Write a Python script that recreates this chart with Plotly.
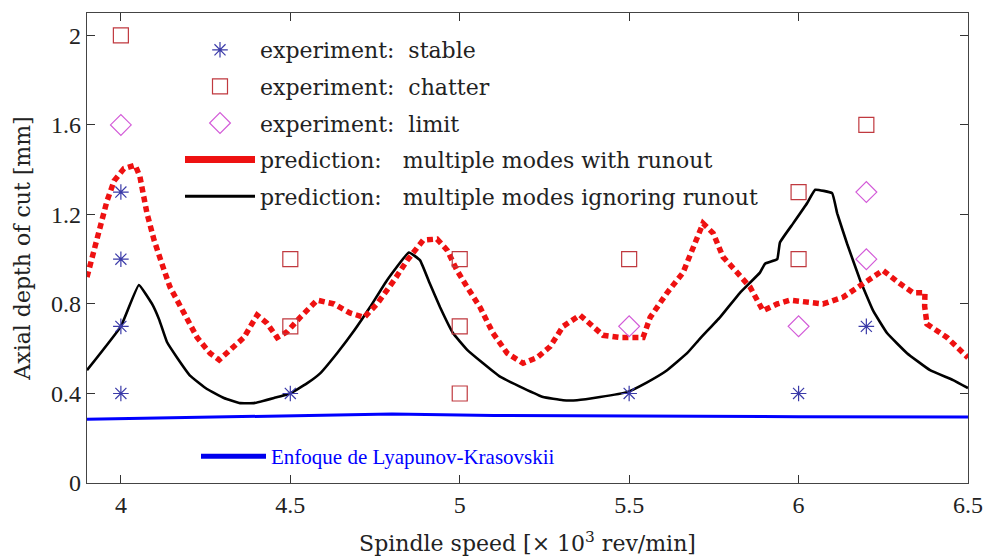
import plotly.graph_objects as go

# ---- experiment points ----
stable_x = [4.0, 4.0, 4.0, 4.0, 4.5, 5.5, 6.0, 6.2]
stable_y = [0.4, 0.7, 1.0, 1.3, 0.4, 0.4, 0.4, 0.7]

chatter_x = [4.0, 4.5, 4.5, 5.0, 5.0, 5.0, 5.5, 6.0, 6.0, 6.2]
chatter_y = [2.0, 1.0, 0.7, 1.0, 0.7, 0.4, 1.0, 1.3, 1.0, 1.6]

limit_x = [4.0, 5.5, 6.0, 6.2, 6.2]
limit_y = [1.6, 0.7, 0.7, 1.3, 1.0]

# ---- prediction: multiple modes with runout (red dotted) ----
runout_x = [3.900, 3.930, 3.959, 3.980, 4.009, 4.042, 4.056, 4.077, 4.098, 4.121,
            4.145, 4.186, 4.225, 4.263, 4.290, 4.322, 4.363, 4.402, 4.431, 4.461,
            4.490, 4.529, 4.579, 4.629, 4.676, 4.718, 4.756, 4.806, 4.845, 4.892,
            4.933, 4.963, 4.992, 5.022, 5.060, 5.098, 5.140, 5.187, 5.228, 5.267,
            5.305, 5.355, 5.393, 5.423, 5.473, 5.541, 5.562, 5.612, 5.659, 5.700,
            5.718, 5.748, 5.777, 5.819, 5.857, 5.895, 5.937, 5.975, 6.025, 6.072,
            6.131, 6.202, 6.249, 6.300, 6.338, 6.373, 6.372, 6.379, 6.438, 6.500]
runout_y = [0.92, 1.085, 1.26, 1.35, 1.405, 1.42, 1.37, 1.205, 1.085, 0.98,
            0.875, 0.76, 0.65, 0.58, 0.55, 0.594, 0.65, 0.75, 0.714, 0.65,
            0.675, 0.74, 0.817, 0.80, 0.76, 0.74, 0.80, 0.905, 0.995, 1.085,
            1.09, 1.04, 0.95, 0.875, 0.785, 0.67, 0.58, 0.535, 0.56, 0.61,
            0.70, 0.75, 0.70, 0.66, 0.65, 0.65, 0.74, 0.85, 0.94, 1.10,
            1.16, 1.116, 1.01, 0.94, 0.875, 0.77, 0.80, 0.817, 0.81, 0.80,
            0.83, 0.905, 0.95, 0.89, 0.85, 0.85, 0.79, 0.71, 0.65, 0.56]

# ---- prediction: multiple modes ignoring runout (black) ----
ignore_x = [3.900, 4.000, 4.053, 4.092, 4.113, 4.136, 4.166, 4.204, 4.254, 4.304,
            4.352, 4.393, 4.452, 4.499, 4.549, 4.588, 4.638, 4.688, 4.735, 4.785,
            4.850, 4.883, 4.912, 4.942, 4.980, 5.022, 5.069, 5.119, 5.187, 5.246,
            5.305, 5.346, 5.414, 5.494, 5.553, 5.612, 5.671, 5.709, 5.768, 5.827,
            5.886, 5.901, 5.937, 5.945, 5.984, 6.025, 6.049, 6.099, 6.114, 6.143,
            6.182, 6.220, 6.261, 6.320, 6.388, 6.456, 6.500]
ignore_y = [0.504, 0.70, 0.885, 0.80, 0.73, 0.63, 0.56, 0.48, 0.42, 0.38,
            0.357, 0.357, 0.38, 0.40, 0.445, 0.49, 0.58, 0.68, 0.785, 0.905,
            1.03, 0.995, 0.89, 0.785, 0.67, 0.595, 0.535, 0.475, 0.424, 0.384,
            0.37, 0.37, 0.384, 0.406, 0.45, 0.504, 0.58, 0.645, 0.74, 0.85,
            0.94, 0.98, 1.00, 1.075, 1.16, 1.25, 1.31, 1.295, 1.205, 1.07,
            0.905, 0.77, 0.67, 0.58, 0.504, 0.46, 0.424]

# ---- Lyapunov-Krasovskii approach (blue) ----
lk_x = [3.90, 4.2, 4.5, 4.8, 5.1, 5.5, 6.0, 6.5]
lk_y = [0.285, 0.292, 0.300, 0.308, 0.302, 0.298, 0.296, 0.295]

x_ticks = [4, 4.5, 5, 5.5, 6, 6.5]
x_tick_labels = ["4", "4.5", "5", "5.5", "6", "6.5"]
y_ticks = [0, 0.4, 0.8, 1.2, 1.6, 2.0]
y_tick_labels = ["0", "0.4", "0.8", "1.2", "1.6", "2"]

legend_names = [
    "experiment:\u00a0 stable",
    "experiment:\u00a0 chatter",
    "experiment:\u00a0 limit",
    "prediction:\u00a0\u00a0 multiple modes with runout",
    "prediction:\u00a0\u00a0 multiple modes ignoring runout",
]
lk_name = "Enfoque de Lyapunov-Krasovskii"

RED = "#ee1111"
STAR = "#3a3aa8"
SQ = "#c0393f"
DIA = "#d35bd8"

fig = go.Figure()

# curves (no legend)
fig.add_trace(go.Scatter(x=lk_x, y=lk_y, mode="lines", line=dict(color="#0000ff", width=3),
                         showlegend=False))
fig.add_trace(go.Scatter(x=ignore_x, y=ignore_y, mode="lines",
                         line=dict(color="black", width=2.6, shape="spline", smoothing=0.3),
                         showlegend=False))
fig.add_trace(go.Scatter(x=runout_x, y=runout_y, mode="lines",
                         line=dict(color=RED, width=5.5, dash="6px,4px"), showlegend=False))

# experiment markers (legend)
fig.add_trace(go.Scatter(x=stable_x, y=stable_y, mode="markers", name=legend_names[0],
                         marker=dict(symbol="asterisk-open", size=13, color=STAR,
                                     line=dict(color=STAR, width=1.2)),
                         legendgroup="a"))
fig.add_trace(go.Scatter(x=chatter_x, y=chatter_y, mode="markers", name=legend_names[1],
                         marker=dict(symbol="square-open", size=15, color=SQ,
                                     line=dict(color=SQ, width=1.2)),
                         legendgroup="b"))
fig.add_trace(go.Scatter(x=limit_x, y=limit_y, mode="markers", name=legend_names[2],
                         marker=dict(symbol="diamond-open", size=16, color=DIA,
                                     line=dict(color=DIA, width=1.2)),
                         legendgroup="c"))
# legend proxies for the lines
fig.add_trace(go.Scatter(x=[None], y=[None], mode="lines", name=legend_names[3],
                         line=dict(color=RED, width=7), legendgroup="d"))
fig.add_trace(go.Scatter(x=[None], y=[None], mode="lines", name=legend_names[4],
                         line=dict(color="black", width=3), legendgroup="e"))
fig.add_trace(go.Scatter(x=[None], y=[None], mode="lines", name=lk_name,
                         line=dict(color="#0000ee", width=5), legend="legend2"))

L, R, T, B = 87, 22, 13, 76
W, H = 990, 559
pw = W - L - R
ph = H - T - B

fig.update_layout(
    width=W, height=H,
    margin=dict(l=L, r=R, t=T, b=B, autoexpand=False),
    plot_bgcolor="white", paper_bgcolor="white",
    font=dict(family="Liberation Serif", color="#222"),
    legend=dict(
        x=(180 - L) / pw, y=1 - (29 - T) / ph, xanchor="left", yanchor="top",
        bgcolor="rgba(0,0,0,0)", font=dict(family="DejaVu Serif", size=22, color="#222"),
        itemwidth=70, traceorder="grouped", tracegroupgap=5,
    ),
    legend2=dict(
        x=(196 - L) / pw, y=1 - (436 - T) / ph, xanchor="left", yanchor="top",
        bgcolor="rgba(0,0,0,0)", font=dict(family="Liberation Serif", size=21, color="#0000ff"),
        itemwidth=65,
    ),
    xaxis=dict(
        range=[3.9, 6.5], tickmode="array", tickvals=x_ticks, ticktext=x_tick_labels,
        ticks="inside", ticklen=8, tickcolor="#333", showline=True, linecolor="#444",
        linewidth=1.3, mirror="ticks", showgrid=False, zeroline=False, automargin=False,
        tickfont=dict(family="Liberation Serif", size=24, color="#222"),
        title=dict(text="Spindle speed [\u00d7 10<sup>3</sup> rev/min]",
                   font=dict(family="DejaVu Serif", size=22, color="#222"), standoff=18),
    ),
    yaxis=dict(
        range=[0, 2.1], tickmode="array", tickvals=y_ticks, ticktext=y_tick_labels,
        ticks="inside", ticklen=8, tickcolor="#333", showline=True, linecolor="#444",
        linewidth=1.3, mirror="ticks", showgrid=False, zeroline=False, automargin=False,
        tickfont=dict(family="Liberation Serif", size=24, color="#222"),
        title=dict(text="Axial depth of cut [mm]",
                   font=dict(family="DejaVu Serif", size=22, color="#222"), standoff=14),
    ),
)

fig.write_html("out.html")
